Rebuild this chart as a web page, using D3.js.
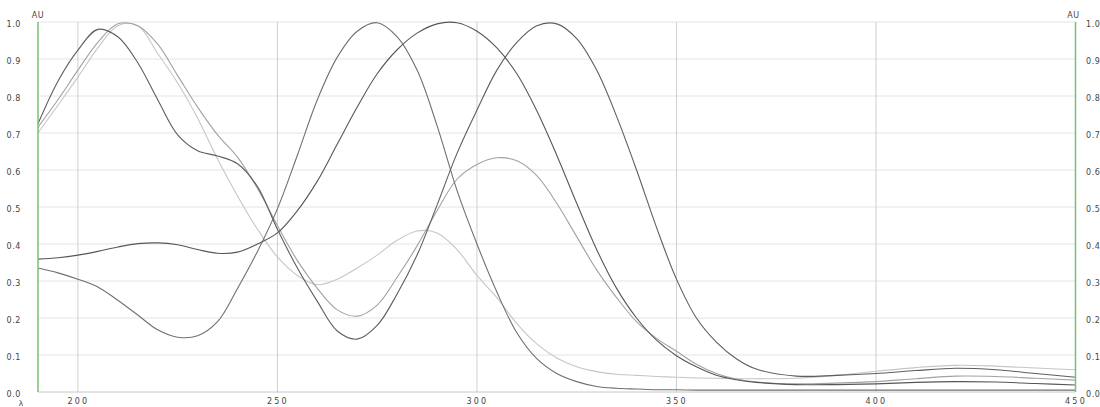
<!DOCTYPE html>
<html>
<head>
<meta charset="utf-8">
<script src="https://cdn.jsdelivr.net/npm/d3@7/dist/d3.min.js"></script>
<style>
  html, body { margin: 0; padding: 0; background: #fff; }
  svg { display: block; }
  .lbl { font-family: "DejaVu Sans", sans-serif; fill: #444; }
</style>
</head>
<body>
<svg id="chart" width="1100" height="407"></svg>
<script>
// Wavelength grid (nm) shared by all spectra
const wavelengths = [190,195,200,205,210,215,220,225,230,235,240,245,250,255,260,265,270,275,280,285,
  290,295,300,305,310,315,320,325,330,335,340,345,350,355,360,365,370,380,390,400,410,420,430,440,450];

// Normalised absorbance of each spectrum on that grid
const specA = [0.725,0.84,0.924,0.98,0.96,0.89,0.79,0.695,0.652,0.638,0.617,0.555,0.44,0.335,0.245,0.165,0.143,0.18,0.265,0.37,
  0.505,0.645,0.762,0.87,0.945,0.99,0.995,0.955,0.87,0.745,0.6,0.445,0.305,0.2,0.135,0.09,0.062,0.043,0.045,0.05,0.058,0.064,0.06,0.05,0.04];
const specB = [0.716,0.79,0.87,0.945,0.995,0.99,0.94,0.855,0.77,0.695,0.635,0.55,0.45,0.355,0.28,0.222,0.205,0.235,0.31,0.395,
  0.49,0.575,0.615,0.633,0.625,0.585,0.51,0.42,0.33,0.255,0.19,0.145,0.11,0.075,0.05,0.035,0.027,0.022,0.024,0.028,0.036,0.043,0.042,0.037,0.032];
const specC = [0.70,0.775,0.851,0.93,0.99,0.99,0.915,0.835,0.74,0.63,0.53,0.44,0.365,0.315,0.29,0.305,0.335,0.37,0.41,0.435,
  0.43,0.385,0.315,0.255,0.185,0.13,0.092,0.068,0.055,0.048,0.045,0.042,0.04,0.038,0.037,0.036,0.036,0.037,0.045,0.056,0.066,0.072,0.07,0.065,0.06];
const specD = [0.359,0.363,0.37,0.38,0.392,0.401,0.403,0.398,0.385,0.375,0.378,0.4,0.43,0.49,0.57,0.67,0.77,0.86,0.925,0.97,
  0.995,0.998,0.975,0.93,0.86,0.76,0.64,0.51,0.385,0.28,0.2,0.14,0.098,0.068,0.045,0.033,0.026,0.02,0.02,0.022,0.026,0.028,0.027,0.023,0.019];
const specE = [0.335,0.322,0.305,0.284,0.248,0.208,0.168,0.148,0.152,0.19,0.28,0.38,0.495,0.64,0.79,0.905,0.975,0.998,0.96,0.87,
  0.72,0.545,0.4,0.27,0.16,0.09,0.05,0.028,0.015,0.01,0.008,0.006,0.006,0.005,0.005,0.005,0.005,0.005,0.005,0.005,0.005,0.005,0.005,0.005,0.005];

const xTicks = [200, 250, 300, 350, 400, 450];
const yTicks = [0, 0.1, 0.2, 0.3, 0.4, 0.5, 0.6, 0.7, 0.8, 0.9, 1.0];

const series = [
  { values: specC, color: "#c6c6c6" },
  { values: specB, color: "#a2a2a2" },
  { values: specE, color: "#707070" },
  { values: specD, color: "#575757" },
  { values: specA, color: "#5e5e5e" }
];

const svg = d3.select("#chart");
const plotLeft = 38, plotRight = 1075.5, plotTop = 22, plotBottom = 392;

const x = d3.scaleLinear().domain([190, 450]).range([plotLeft, plotRight]);
const y = d3.scaleLinear().domain([0, 1]).range([plotBottom, plotTop]);

// Horizontal grid
svg.append("g").selectAll("line").data(yTicks.filter(d => d > 0)).join("line")
  .attr("x1", plotLeft).attr("x2", plotRight)
  .attr("y1", d => y(d)).attr("y2", d => y(d))
  .attr("stroke", "#e4e4e4").attr("stroke-width", 1);

// Vertical grid
svg.append("g").selectAll("line").data(xTicks.filter(d => d < 450)).join("line")
  .attr("x1", d => x(d)).attr("x2", d => x(d))
  .attr("y1", plotTop).attr("y2", plotBottom)
  .attr("stroke", "#cfcfcf").attr("stroke-width", 1);

// Baseline
svg.append("line").attr("x1", plotLeft).attr("x2", plotRight)
  .attr("y1", y(0)).attr("y2", y(0))
  .attr("stroke", "#c8c8c8").attr("stroke-width", 1);

// Spectra
const line = d3.line()
  .x((d, i) => x(wavelengths[i]))
  .y(d => y(d))
  .curve(d3.curveCatmullRom.alpha(0.5));

svg.append("g").selectAll("path").data(series).join("path")
  .attr("d", s => line(s.values))
  .attr("fill", "none")
  .attr("stroke", s => s.color)
  .attr("stroke-width", 1.1);

// Axes
const fmt = d3.format(".1f");
const yLeft = svg.append("g").attr("transform", `translate(${plotLeft},0)`)
  .call(d3.axisLeft(y).tickValues(yTicks).tickFormat(fmt).tickSize(0).tickPadding(17));
const yRight = svg.append("g").attr("transform", `translate(${plotRight},0)`)
  .call(d3.axisRight(y).tickValues(yTicks).tickFormat(fmt).tickSize(0).tickPadding(10.5));
const xAxis = svg.append("g").attr("transform", `translate(0,${plotBottom})`)
  .call(d3.axisBottom(x).tickValues(xTicks).tickFormat(d3.format("d")).tickSize(0).tickPadding(6));

[yLeft, yRight, xAxis].forEach(g => {
  g.select(".domain").remove();
  g.selectAll("text").attr("class", "lbl").attr("font-size", 8)
    .attr("font-family", "DejaVu Sans, sans-serif").attr("fill", "#444");
});
yLeft.selectAll("text").attr("dy", "0.5em").style("letter-spacing", "0.6px");
yRight.selectAll("text").attr("dy", "0.5em").style("letter-spacing", "0.6px");
xAxis.selectAll("text").style("letter-spacing", "2.2px");

// Green side axes
[plotLeft, plotRight].forEach(px => {
  svg.append("line").attr("x1", px).attr("x2", px)
    .attr("y1", plotTop).attr("y2", plotBottom)
    .attr("stroke", "#74c274").attr("stroke-width", 1.5);
});

// Unit labels
svg.append("text").attr("class", "lbl").attr("x", plotLeft).attr("y", 18)
  .attr("text-anchor", "middle").attr("font-size", 8).style("letter-spacing", "0.6px").text("AU");
svg.append("text").attr("class", "lbl").attr("x", plotRight - 2).attr("y", 18)
  .attr("text-anchor", "middle").attr("font-size", 8).style("letter-spacing", "0.6px").text("AU");
svg.append("text").attr("class", "lbl").attr("x", 21).attr("y", 405.5)
  .attr("text-anchor", "middle").attr("font-size", 7.5).text("λ");
</script>
</body>
</html>
